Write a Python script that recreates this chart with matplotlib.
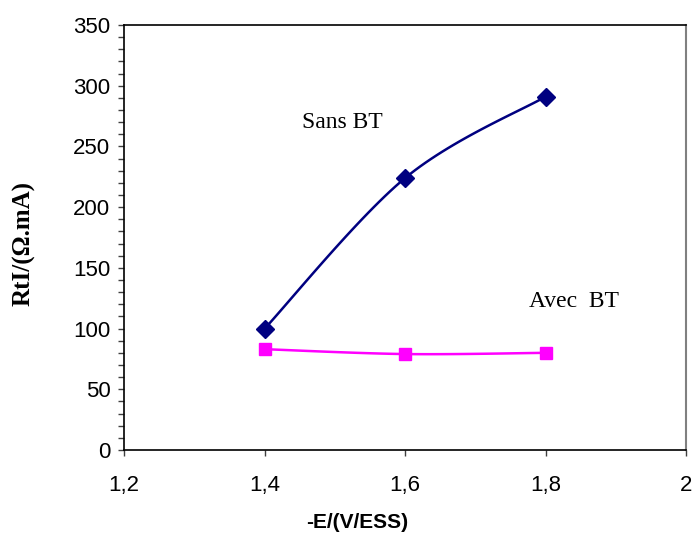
import matplotlib
matplotlib.use("Agg")
import matplotlib.pyplot as plt
import numpy as np
from matplotlib.ticker import MultipleLocator, FuncFormatter

potential = [1.4, 1.6, 1.8]
rt_sans_bt = [100, 224, 291]
rt_avec_bt = [83, 79, 80]


def smooth(x, y, n=30):
    # Excel-like smoothed line (Catmull-Rom through the points, end points repeated)
    x = np.asarray(x, float)
    y = np.asarray(y, float)
    px = np.concatenate([[x[0]], x, [x[-1]]])
    py = np.concatenate([[y[0]], y, [y[-1]]])
    xs, ys = [], []
    t = np.linspace(0, 1, n)
    for i in range(1, len(px) - 2):
        for p, out in ((px, xs), (py, ys)):
            p0, p1, p2, p3 = p[i - 1], p[i], p[i + 1], p[i + 2]
            c1 = p1 + (p2 - p0) / 6
            c2 = p2 - (p3 - p1) / 6
            out.extend((1 - t) ** 3 * p1 + 3 * (1 - t) ** 2 * t * c1
                       + 3 * (1 - t) * t ** 2 * c2 + t ** 3 * p2)
    return np.array(xs), np.array(ys)


fig = plt.figure(figsize=(6.98, 5.38), dpi=100)
ax = fig.add_axes([0.178, 0.1636, 0.805, 0.79])

ax.plot(*smooth(potential, rt_sans_bt), color="#000080", lw=1.8)
ax.plot(potential, rt_sans_bt, ls="none", marker="D", ms=9.5, color="#000080")

ax.plot(*smooth(potential, rt_avec_bt), color="#FF00FF", lw=1.8)
ax.plot(potential, rt_avec_bt, ls="none", marker="s", ms=9, color="#FF00FF")

ax.set_xlim(1.2, 2.0)
ax.set_ylim(0, 350)
ax.xaxis.set_major_locator(MultipleLocator(0.2))
ax.yaxis.set_major_locator(MultipleLocator(50))
ax.yaxis.set_minor_locator(MultipleLocator(10))
ax.xaxis.set_major_formatter(FuncFormatter(lambda v, p: f"{v:g}".replace(".", ",")))

ax.tick_params(axis="both", which="major", direction="out", length=4, width=1,
               labelsize=16, color="#404040")
ax.tick_params(axis="y", which="minor", direction="out", length=4, width=1, color="#404040")
ax.tick_params(axis="y", pad=6)
ax.tick_params(axis="x", pad=14)
for lab in ax.get_xticklabels() + ax.get_yticklabels():
    lab.set_fontfamily("Liberation Sans")

ax.spines["right"].set_color("#808080")
ax.spines["right"].set_linewidth(1.5)
for s in ("left", "bottom", "top"):
    ax.spines[s].set_color("black")
    ax.spines[s].set_linewidth(1.2)

ax.text(1.51, 270, "Sans BT", fontsize=17, family="Liberation Serif", ha="center", va="center")
ax.text(1.84, 122, "Avec  BT", fontsize=17, family="Liberation Serif", ha="center", va="center")

fig.text(0.034, 0.548, "RtI/(\u03a9.mA)", rotation=90, fontsize=18, fontweight="bold",
         family="Liberation Serif", ha="center", va="center")
fig.text(0.512, 0.028, "-E/(V/ESS)", fontsize=15, fontweight="bold",
         family="Liberation Sans", ha="center", va="center")

fig.savefig("out.png", dpi=100)
